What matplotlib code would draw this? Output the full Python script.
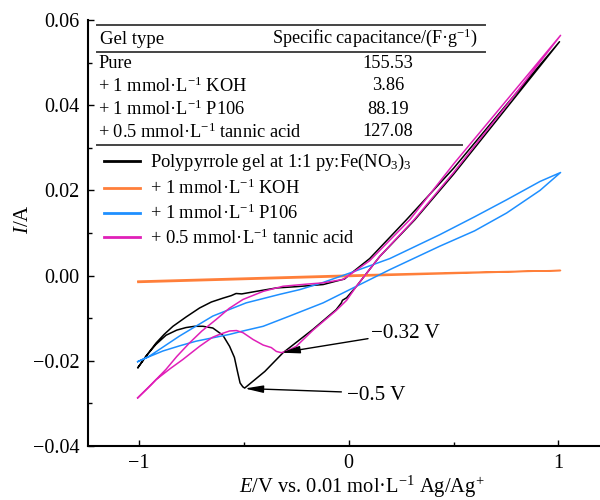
import matplotlib
matplotlib.use("Agg")
import matplotlib.pyplot as plt
from matplotlib.lines import Line2D
from matplotlib.ticker import FuncFormatter, MultipleLocator

plt.rcParams['font.family'] = ['Liberation Serif', 'DejaVu Serif']
plt.rcParams['mathtext.fontset'] = 'custom'
plt.rcParams['mathtext.rm'] = 'Liberation Serif'
plt.rcParams['mathtext.it'] = 'Liberation Serif:italic'
plt.rcParams['mathtext.bf'] = 'Liberation Serif:bold'

# ---------------- data ----------------
pure_E = [-1.005, -0.966, -0.92, -0.871, -0.82, -0.776, -0.735, -0.695, -0.648, -0.60, -0.568,
          -0.545, -0.530, -0.518, -0.505, -0.496, -0.40, -0.313, -0.17, -0.06, -0.035, -0.03,
          -0.01, 0.037, 0.148, 0.315, 0.5, 0.75, 1.005,
          0.75, 0.5, 0.275, 0.1, 0.013, -0.02, -0.06, -0.122, -0.25, -0.345, -0.441, -0.51,
          -0.537, -0.56, -0.60, -0.655, -0.711, -0.775, -0.838, -0.88, -0.918, -0.96, -1.005]
pure_I = [-0.0216, -0.0189, -0.0162, -0.0140, -0.0128, -0.0122, -0.0119, -0.0119, -0.0123, -0.0140, -0.0166,
          -0.0192, -0.0226, -0.0252, -0.0261, -0.0264, -0.0225, -0.0181, -0.0126, -0.0080, -0.0064, -0.0058,
          -0.0052, -0.0025, 0.0045, 0.0131, 0.0238, 0.0392, 0.0549,
          0.0400, 0.0252, 0.0131, 0.0040, 0.0006, -0.0008, -0.0013, -0.0021, -0.0026, -0.0029, -0.0037, -0.0043,
          -0.0042, -0.0047, -0.0053, -0.0062, -0.0076, -0.0097, -0.0119, -0.0138, -0.0158, -0.0185, -0.0216]

koh_E = [-1.005, -0.5, 0.0, 0.5, 1.01, 0.5, 0.0, -0.5, -1.005]
koh_I = [-0.0016, -0.0009, -0.0002, 0.0005, 0.0012, 0.0007, 0.0001, -0.0006, -0.0013]

p106_E = [-1.006, -0.95, -0.886, -0.807, -0.728, -0.648, -0.568, -0.504, -0.408, -0.282, -0.122, 0.037,
          0.196, 0.434, 0.60, 0.753, 0.912, 1.01,
          0.912, 0.753, 0.60, 0.434, 0.196, 0.005, -0.122, -0.234, -0.329, -0.489, -0.648, -0.807,
          -0.95, -1.006]
p106_I = [-0.0202, -0.0190, -0.0177, -0.0165, -0.0154, -0.0146, -0.0138, -0.0130, -0.0119, -0.0095, -0.0064, -0.0025,
          0.0014, 0.0069, 0.0105, 0.0147, 0.0200, 0.0242,
          0.0221, 0.0178, 0.0138, 0.0096, 0.0040, 0.0006, -0.0016, -0.0033, -0.0044, -0.0064, -0.0095, -0.0142,
          -0.0189, -0.0202]

tannic_E = [-1.006, -0.96, -0.918, -0.85, -0.791, -0.711, -0.65, -0.616, -0.568, -0.535, -0.504, -0.456,
            -0.408, -0.369, -0.345, -0.321, -0.29, -0.25, -0.17, -0.06, -0.01, 0.037, 0.148, 0.315,
            0.5, 0.75, 1.01,
            0.75, 0.5, 0.291, 0.1, 0.005, -0.027, -0.122, -0.2, -0.313, -0.408, -0.504, -0.57,
            -0.632, -0.70, -0.759, -0.82, -0.871, -0.94, -1.006]
tannic_I = [-0.0287, -0.0265, -0.0244, -0.0218, -0.0197, -0.0166, -0.0145, -0.0138, -0.0130, -0.0129, -0.0134, -0.0150,
            -0.0163, -0.0169, -0.0178, -0.0181, -0.0176, -0.0166, -0.0128, -0.0082, -0.0058, -0.0025, 0.0045, 0.0133,
            0.0242, 0.0398, 0.0564,
            0.0410, 0.0262, 0.0131, 0.0035, 0.0002, -0.0009, -0.0017, -0.0020, -0.0025, -0.0037, -0.0056, -0.0077,
            -0.0103, -0.0130, -0.0158, -0.0190, -0.0220, -0.0255, -0.0287]

series_labels = [r'Polypyrrole gel at 1:1 py:Fe(NO$_3$)$_3$',
                 r'+ 1 mmol·L$^{-1}$ KOH',
                 r'+ 1 mmol·L$^{-1}$ P106',
                 r'+ 0.5 mmol·L$^{-1}$ tannic acid']
series_colors = ['#000000', '#FF7F3A', '#1E8FFF', '#E020B8']

table_gel = ['Pure', r'+ 1 mmol·L$^{-1}$ KOH', r'+ 1 mmol·L$^{-1}$ P106',
             r'+ 0.5 mmol·L$^{-1}$ tannic acid']
table_cap = ['155.53', '3.86', '88.19', '127.08']

x_ticks = [-1, 0, 1]
y_ticks = [-0.04, -0.02, 0.00, 0.02, 0.04, 0.06]

# ---------------- figure ----------------
W, H = 600, 500
fig = plt.figure(figsize=(6, 5), dpi=100)
ax = fig.add_axes([88 / W, 1 - 446 / H, 1 - 88 / W, (446 - 20) / H])

data = [(pure_E, pure_I), (koh_E, koh_I), (p106_E, p106_I), (tannic_E, tannic_I)]
handles = []
for (e, i), c, lab in zip(data, series_colors, series_labels):
    h, = ax.plot(e, i, color=c, lw=1.1, label=lab)
    handles.append(h)

ax.set_xlim(-1.243, 1.198)
ax.set_ylim(-0.04, 0.06)
ax.set_xticks(x_ticks)
ax.set_yticks(y_ticks)
ax.xaxis.set_minor_locator(MultipleLocator(0.5))
ax.yaxis.set_minor_locator(MultipleLocator(0.01))


def fmt_y(v, p):
    s = f'{v:.2f}'
    if s == '-0.00':
        s = '0.00'
    return s.replace('-', '\u2212')


def fmt_x(v, p):
    return f'{v:.0f}'.replace('-', '\u2212')


ax.yaxis.set_major_formatter(FuncFormatter(fmt_y))
ax.xaxis.set_major_formatter(FuncFormatter(fmt_x))
ax.tick_params(which='both', direction='in', width=1.0, labelsize=14.5)
ax.tick_params(which='major', length=4, pad=6)
ax.tick_params(which='minor', length=3)
ax.tick_params(axis='x', pad=6)
for s in ['top', 'right']:
    ax.spines[s].set_visible(False)
for s in ['left', 'bottom']:
    ax.spines[s].set_linewidth(1.5)

ax.set_xlabel(r'$E$/V vs. 0.01 mol·L$^{-1}$ Ag/Ag$^{+}$', fontsize=14.8)
ax.set_ylabel(r'$I$/A', fontsize=15)
ax.xaxis.set_label_coords((362 - 88) / (W - 88), -(474 - 446) / 426)
ax.yaxis.set_label_coords(-(88 - 33) / (W - 88), (446 - 219) / 426)

# annotations
arrow = dict(arrowstyle='-|>,head_length=1.1,head_width=0.22', color='black', lw=1.0,
             shrinkA=0, shrinkB=0)
ax.annotate('', xy=(-0.321, -0.0181), xytext=(0.092, -0.0148), arrowprops=arrow)
ax.text(0.108, -0.0136, '\u22120.32 V', fontsize=15.2, va='center', ha='left')
ax.annotate('', xy=(-0.496, -0.0265), xytext=(-0.035, -0.0273), arrowprops=arrow)
ax.text(-0.01, -0.0281, '\u22120.5 V', fontsize=15.2, va='center', ha='left')

# legend
leg = ax.legend(handles=handles, loc='upper left', bbox_to_anchor=(104 / W, 1 - 152 / H),
                bbox_transform=fig.transFigure, frameon=False, fontsize=13.3,
                handlelength=1.95, handletextpad=0.55, labelspacing=0.3, borderpad=0,
                borderaxespad=0)
for lh in leg.get_lines():
    lh.set_linewidth(2.0)


# table
def fx(px):
    return px / W


def fy(py):
    return 1 - py / H


for (x0, x1, yy) in [(97, 485, 25), (97, 485, 52), (97, 462, 145)]:
    fig.add_artist(Line2D([fx(x0), fx(x1)], [fy(yy), fy(yy)], transform=fig.transFigure,
                          color='#444444', lw=1.4))

fig.text(fx(100), fy(39), 'Gel type', fontsize=13.5, va='center', ha='left')
fig.text(fx(272), fy(38), r'Specific capacitance/(F·g$^{-1}$)', fontsize=13.1, va='center', ha='left')
row_y = [63, 86, 109, 132]
for g, c, yy in zip(table_gel, table_cap, row_y):
    fig.text(fx(98), fy(yy), g, fontsize=13.2, va='center', ha='left')
    fig.text(fx(388), fy(yy), c, fontsize=13.2, va='center', ha='center')

fig.savefig('out.png', dpi=100)
